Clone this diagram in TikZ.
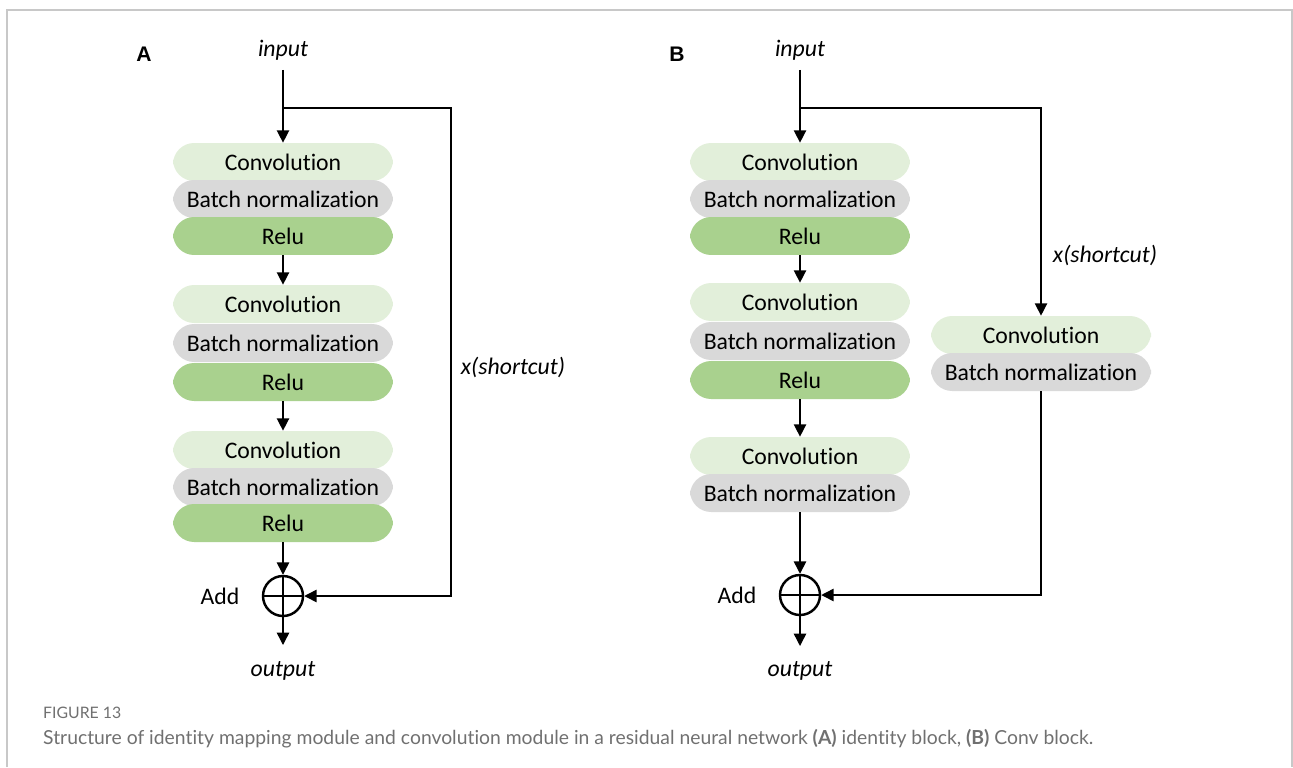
\documentclass[tikz,border=0pt]{standalone}
\usepackage{fontspec}
\setmainfont{Carlito}[Ligatures=NoCommon]
\newfontfamily\capfont{Lato}[Ligatures=NoCommon]
\newfontfamily\panelfont{Liberation Sans}
\usetikzlibrary{arrows.meta,positioning}

\definecolor{convgreen}{HTML}{E2EFDA}
\definecolor{bngray}{HTML}{D9D9D9}
\definecolor{relugreen}{HTML}{A9D18E}
\definecolor{framegray}{HTML}{C8C8C8}
\definecolor{capgray}{HTML}{707070}

\tikzset{
	layer/.style={rounded corners=12pt, minimum width=4.4cm, minimum height=0.76cm, inner sep=0pt, font=\fontsize{13.5}{16}\selectfont},
	convlayer/.style={layer, fill=convgreen},
	bnlayer/.style={layer, fill=bngray},
	relulayer/.style={layer, fill=relugreen},
	wire/.style={line width=0.8pt},
	flow/.style={wire, -{Triangle[length=7pt,width=7pt]}},
	iolabel/.style={font=\fontsize{13.5}{16}\selectfont\itshape},
	addsign/.style={circle, draw, line width=1.4pt, minimum size=0.8cm, inner sep=0pt,
		path picture={\draw[line width=1.4pt] (path picture bounding box.north) -- (path picture bounding box.south)
			(path picture bounding box.west) -- (path picture bounding box.east);}},
	panel/.style={font=\panelfont\bfseries\fontsize{12}{14}\selectfont},
}

\begin{document}
\begin{tikzpicture}[x=0.02cm, y=-0.02cm]
	\useasboundingbox (0,0) rectangle (1293,767);
	
	% frame
	\draw[framegray, line width=1pt] (7,767) -- (7,10) -- (1292,10) -- (1292,767);
	
	% ---- A : identity block ----
	\node[panel] (labA) at (144,54) {A};
	\node[iolabel] (a_in) at (283,50) {input};
	\coordinate (a_top) at (283,70);
	\coordinate (a_split) at (283,108);
	\coordinate (a_turn) at (451,108);
	\coordinate (a_back) at (451,596);
	
	\node[convlayer] (a_conv1) at (283,162) {Convolution};
	\node[bnlayer]   (a_bn1)   at (283,199) {Batch normalization};
	\node[relulayer] (a_relu1) at (283,236) {Relu};
	
	\node[convlayer] (a_conv2) at (283,304) {Convolution};
	\node[bnlayer]   (a_bn2)   at (283,343) {Batch normalization};
	\node[relulayer] (a_relu2) at (283,382) {Relu};
	
	\node[convlayer] (a_conv3) at (283,450) {Convolution};
	\node[bnlayer]   (a_bn3)   at (283,487) {Batch normalization};
	\node[relulayer] (a_relu3) at (283,523) {Relu};
	
	\node[addsign] (a_add) at (283,596) {};
	\node[font=\fontsize{13.5}{16}\selectfont] (a_addtxt) at (220,596) {Add};
	\coordinate (a_end) at (283,645);
	\node[iolabel] (a_out) at (283,671) {output};
	\node[iolabel] (a_sc) at (513,367) {x(shortcut)};
	
	\draw[flow] (a_top) -- (a_conv1);
	\draw[flow] (a_relu1) -- (a_conv2);
	\draw[flow] (a_relu2) -- (a_conv3);
	\draw[flow] (a_relu3) -- (a_add);
	\draw[flow] (a_add) -- (a_end);
	\draw[flow] (a_split) -- (a_turn) -- (a_back) -- (a_add);
	
	% ---- B : conv block ----
	\node[panel] (labB) at (677,54) {B};
	\node[iolabel] (b_in) at (800,50) {input};
	\coordinate (b_top) at (800,70);
	\coordinate (b_split) at (800,108);
	\coordinate (b_turn) at (1041,108);
	
	\node[convlayer] (b_conv1) at (800,162) {Convolution};
	\node[bnlayer]   (b_bn1)   at (800,199) {Batch normalization};
	\node[relulayer] (b_relu1) at (800,236) {Relu};
	
	\node[convlayer] (b_conv2) at (800,302) {Convolution};
	\node[bnlayer]   (b_bn2)   at (800,341) {Batch normalization};
	\node[relulayer] (b_relu2) at (800,380) {Relu};
	
	\node[convlayer] (b_conv3) at (800,456) {Convolution};
	\node[bnlayer]   (b_bn3)   at (800,493) {Batch normalization};
	
	\node[convlayer] (b_sconv) at (1041,335) {Convolution};
	\node[bnlayer]   (b_sbn)   at (1041,372) {Batch normalization};
	\coordinate (b_back) at (1041,595);
	
	\node[addsign] (b_add) at (800,595) {};
	\node[font=\fontsize{13.5}{16}\selectfont] (b_addtxt) at (737,595) {Add};
	\coordinate (b_end) at (800,646);
	\node[iolabel] (b_out) at (800,671) {output};
	\node[iolabel] (b_sc) at (1105,255) {x(shortcut)};
	
	\draw[flow] (b_top) -- (b_conv1);
	\draw[flow] (b_relu1) -- (b_conv2);
	\draw[flow] (b_relu2) -- (b_conv3);
	\draw[flow] (b_bn3) -- (b_add);
	\draw[flow] (b_add) -- (b_end);
	\draw[flow] (b_split) -- (b_turn) -- (b_sconv);
	\draw[flow] (b_sbn) -- (b_back) -- (b_add);
	
	% caption
	\node[anchor=west, text=capgray, font=\capfont\fontsize{9}{10}\selectfont] (capnum) at (37,713) {FIGURE 13};
	\node[anchor=west, text=capgray, font=\capfont\fontsize{11}{13}\selectfont] (captxt) at (37,739)
		{Structure of identity mapping module and convolution module in a residual neural network \textbf{(A)} identity block, \textbf{(B)} Conv block.};
\end{tikzpicture}
\end{document}
